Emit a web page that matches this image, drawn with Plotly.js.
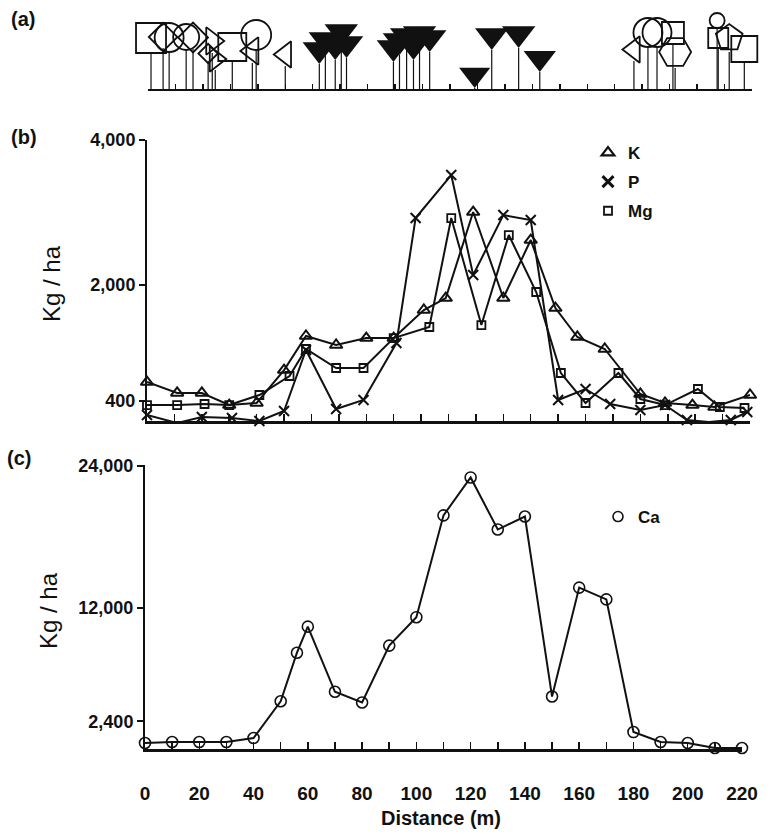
<!DOCTYPE html>
<html>
<head>
<meta charset="utf-8">
<script src="https://cdn.plot.ly/plotly-3.0.1.min.js"></script>
<style>
html,body{margin:0;padding:0;background:#fff;}
#chart{width:774px;height:834px;}
</style>
</head>
<body>
<div id="chart"></div>
<script>
// ---------- Panel (a): vegetation profile along the transect ----------
// position along transect (m), trunk height (relative units), crown width (relative units)
const squareDist  = [1.1, 30.7, 191.2, 207.7, 217.2];
const squareTrunk = [36, 28, 45, 41, 27];
const squareCrown = [30, 28, 22, 20, 26];

const circleDist  = [7.7, 13.9, 39.4, 182.1, 185.4, 207.3];
const circleTrunk = [37, 39, 39, 42, 42, 61];
const circleCrown = [29, 26, 30, 29, 29, 15];

const diamondDist  = [5.5, 16.4, 21.9];
const diamondTrunk = [41, 40, 28];
const diamondCrown = [22, 23, 15];

const triRightDist  = [23.4, 24.5];
const triRightTrunk = [36, 19];
const triRightCrown = [24, 22];

const triLeftDist  = [38, 50, 177];
const triLeftTrunk = [26, 23, 28];
const triLeftCrown = [24, 23, 23];

const coniferDist  = [62.4, 64.6, 68.2, 70.4, 72.3, 89.4, 91.6, 94.2, 96.7, 98.9, 102.6, 119, 125.2, 135, 142.7];
const coniferTrunk = [25, 35, 29, 43, 31, 27, 34, 39, 29, 41, 37, 1, 39, 41, 17];
const coniferCrown = [29, 29, 29, 29, 29, 29, 29, 29, 29, 29, 29, 27, 29, 29, 28];

const hexDist  = [192];
const hexTrunk = [21];
const hexCrown = [32];

const pentDist  = [211.7];
const pentTrunk = [37];
const pentCrown = [28];

// ---------- Panel (b): K, P, Mg (Kg / ha) ----------
const kDist  = [0, 11, 20, 30, 40, 50, 58, 69, 80, 90, 101, 109, 119, 130, 140, 149, 157, 167, 180, 189, 199, 207, 220];
const kVal   = [659, 508, 508, 342, 370, 824, 1293, 1169, 1265, 1265, 1651, 1816, 3001, 1816, 2615, 1678, 1279, 1114, 494, 370, 342, 315, 480];
const pDist  = [0, 11, 20, 31, 41, 50, 58, 69, 79, 91, 98, 111, 119, 130, 140, 150, 160, 169, 180, 189, 197, 205, 213, 219];
const pVal   = [205, 94, 177, 163, 122, 260, 1100, 287, 411, 1196, 2918, 3510, 2133, 2959, 2891, 411, 563, 356, 273, 342, 136, 108, 136, 246];
const mgDist = [0, 11, 21, 30, 41, 52, 58, 69, 79, 90, 103, 111, 122, 132, 142, 151, 160, 172, 180, 189, 201, 209, 218];
const mgVal  = [342, 342, 356, 342, 480, 742, 1114, 852, 852, 1265, 1417, 2918, 1444, 2684, 1899, 783, 370, 783, 425, 342, 563, 315, 301];

// ---------- Panel (c): Ca (Kg / ha) ----------
const caDist = [0, 10, 20, 30, 40, 50, 56, 60, 70, 80, 90, 100, 110, 120, 130, 140, 150, 160, 170, 180, 190, 200, 210, 220];
const caVal  = [580, 660, 660, 660, 1000, 4100, 8200, 10400, 4900, 4000, 8800, 11200, 19800, 23000, 18600, 19700, 4500, 13700, 12700, 1500, 660, 580, 150, 150];

// tick labels
const bTickVals = [400, 2000, 4000];
const cTickVals = [2400, 12000, 24000];
const distTickVals = [0,10,20,30,40,50,60,70,80,90,100,110,120,130,140,150,160,170,180,190,200,210,220];
const distTickText = ['0','','20','','40','','60','','80','','100','','120','','140','','160','','180','','200','','220'];

// ---------- build ----------
const INK = '#111';
const FONT = 'Liberation Sans, Arial, Helvetica, sans-serif';
const W = 774, H = 834;
const px = v => v / W;
const py = v => 1 - v / H;

const species = [
  {d: squareDist,   t: squareTrunk,   c: squareCrown,   sym: 'square-open',         fill: false},
  {d: circleDist,   t: circleTrunk,   c: circleCrown,   sym: 'circle-open',         fill: false},
  {d: diamondDist,  t: diamondTrunk,  c: diamondCrown,  sym: 'diamond-open',        fill: false},
  {d: triRightDist, t: triRightTrunk, c: triRightCrown, sym: 'triangle-right-open', fill: false},
  {d: triLeftDist,  t: triLeftTrunk,  c: triLeftCrown,  sym: 'triangle-left-open',  fill: false},
  {d: hexDist,      t: hexTrunk,      c: hexCrown,      sym: 'hexagon2-open',       fill: false},
  {d: pentDist,     t: pentTrunk,     c: pentCrown,     sym: 'pentagon-open',       fill: false},
  {d: coniferDist,  t: coniferTrunk,  c: coniferCrown,  sym: 'triangle-down',       fill: true}
];

const traces = [];
// stems
const sx = [], sy = [];
species.forEach(s => s.d.forEach((d, i) => { sx.push(d, d, null); sy.push(0, s.t[i], null); }));
traces.push({x: sx, y: sy, xaxis: 'x', yaxis: 'y', mode: 'lines', line: {color: INK, width: 1.2},
  showlegend: false, hoverinfo: 'skip', cliponaxis: false});
species.forEach(s => {
  traces.push({
    x: s.d, y: s.t.map((t, i) => t + s.c[i] / 2), xaxis: 'x', yaxis: 'y', mode: 'markers',
    marker: {symbol: s.sym, size: s.c, opacity: 1, color: INK, line: {color: INK, width: s.fill ? 0 : 1.8}},
    showlegend: false, cliponaxis: false
  });
});

// panel (b)
const lineB = {color: INK, width: 2};
traces.push({x: kDist, y: kVal, xaxis: 'x2', yaxis: 'y2', mode: 'lines+markers', line: lineB,
  marker: {symbol: 'triangle-up-open', size: 11, opacity: 1, color: INK, line: {width: 2, color: INK}}, showlegend: false, cliponaxis: false});
traces.push({x: pDist, y: pVal, xaxis: 'x2', yaxis: 'y2', mode: 'lines+markers', line: lineB,
  marker: {symbol: 'x-thin-open', size: 10, opacity: 1, color: INK, line: {width: 2, color: INK}}, showlegend: false, cliponaxis: false});
traces.push({x: mgDist, y: mgVal, xaxis: 'x2', yaxis: 'y2', mode: 'lines+markers', line: lineB,
  marker: {symbol: 'square-open', size: 8, opacity: 1, color: INK, line: {width: 1.8, color: INK}}, showlegend: false, cliponaxis: false});
// legend entries (b)
traces.push({x: [null], y: [null], xaxis: 'x2', yaxis: 'y2', mode: 'markers', name: 'K', legend: 'legend', legendgroup: 'k',
  marker: {symbol: 'triangle-up-open', size: 11, color: INK, line: {width: 2.2, color: INK}}});
traces.push({x: [null], y: [null], xaxis: 'x2', yaxis: 'y2', mode: 'markers', name: 'P', legend: 'legend', legendgroup: 'p',
  marker: {symbol: 'x-thin-open', size: 11, color: INK, line: {width: 3, color: INK}}});
traces.push({x: [null], y: [null], xaxis: 'x2', yaxis: 'y2', mode: 'markers', name: 'Mg', legend: 'legend', legendgroup: 'mg',
  marker: {symbol: 'square-open', size: 8, color: INK, line: {width: 1.8, color: INK}}});

// panel (c)
traces.push({x: caDist, y: caVal, xaxis: 'x3', yaxis: 'y3', mode: 'lines+markers', line: {color: INK, width: 2},
  marker: {symbol: 'circle-open', size: 11, opacity: 1, color: INK, line: {width: 1.6, color: INK}}, showlegend: false, cliponaxis: false});
traces.push({x: [null], y: [null], xaxis: 'x3', yaxis: 'y3', mode: 'markers', name: 'Ca', legend: 'legend2',
  marker: {symbol: 'circle-open', size: 10, color: INK, line: {width: 1.6, color: INK}}});

const tickFont = {family: FONT, size: 18, color: INK, weight: 'bold'};
const baseX = {range: [0, 220], showline: true, linecolor: INK, showgrid: false, zeroline: false,
  ticks: 'inside', tickvals: distTickVals, tickcolor: INK, tickwidth: 1.5, fixedrange: true};

const layout = {
  width: W, height: H,
  margin: {l: 0, r: 0, t: 0, b: 0},
  paper_bgcolor: '#fff', plot_bgcolor: 'rgba(0,0,0,0)',
  font: {family: FONT, color: INK},
  showlegend: true,
  xaxis: Object.assign({}, baseX, {domain: [px(148), px(752)], anchor: 'y', linewidth: 2, ticklen: 5,
    showticklabels: false}),
  yaxis: {domain: [py(89), py(9)], range: [0, 80], visible: false, anchor: 'x', fixedrange: true},
  xaxis2: Object.assign({}, baseX, {domain: [px(147), px(750)], anchor: 'y2', linewidth: 2.5, ticklen: 7,
    showticklabels: false}),
  yaxis2: {domain: [py(421), py(139.5)], range: [122, 4000], anchor: 'x2', showline: true, linecolor: INK,
    linewidth: 2, showgrid: false, zeroline: false, ticks: 'outside', ticklen: 6, tickwidth: 2, tickcolor: INK,
    tickvals: bTickVals, tickformat: ',d', tickfont: tickFont, fixedrange: true},
  xaxis3: Object.assign({}, baseX, {domain: [px(145), px(742)], anchor: 'y3', linewidth: 2.5, ticklen: 7,
    ticktext: distTickText, tickfont: {family: FONT, size: 19, color: INK, weight: 'bold'},
    ticklabelstandoff: 26}),
  yaxis3: {domain: [py(749), py(465)], range: [70, 24050], anchor: 'x3', showline: true, linecolor: INK,
    linewidth: 2, showgrid: false, zeroline: false, ticks: 'outside', ticklen: 6, tickwidth: 2, tickcolor: INK,
    tickvals: cTickVals, tickformat: ',d', tickfont: tickFont, fixedrange: true},
  legend: {x: px(588), y: py(135), xanchor: 'left', yanchor: 'top', bgcolor: 'rgba(0,0,0,0)',
    font: {family: FONT, size: 17, color: INK, weight: 'bold'}, traceorder: 'grouped', tracegroupgap: 4, itemwidth: 30},
  legend2: {x: px(598), y: py(499), xanchor: 'left', yanchor: 'top', bgcolor: 'rgba(0,0,0,0)',
    font: {family: FONT, size: 17, color: INK, weight: 'bold'}, itemwidth: 30},
  annotations: [
    {text: '(a)', x: px(9), y: py(6), xref: 'paper', yref: 'paper', xanchor: 'left', yanchor: 'top', showarrow: false,
      font: {family: FONT, size: 20, color: INK, weight: 'bold'}},
    {text: '(b)', x: px(9), y: py(124), xref: 'paper', yref: 'paper', xanchor: 'left', yanchor: 'top', showarrow: false,
      font: {family: FONT, size: 20, color: INK, weight: 'bold'}},
    {text: '(c)', x: px(5), y: py(445), xref: 'paper', yref: 'paper', xanchor: 'left', yanchor: 'top', showarrow: false,
      font: {family: FONT, size: 20, color: INK, weight: 'bold'}},
    {text: 'Kg / ha', x: px(51), y: py(284), xref: 'paper', yref: 'paper', xanchor: 'center', yanchor: 'middle',
      textangle: -90, showarrow: false, font: {family: FONT, size: 24, color: INK}},
    {text: 'Kg / ha', x: px(48), y: py(611), xref: 'paper', yref: 'paper', xanchor: 'center', yanchor: 'middle',
      textangle: -90, showarrow: false, font: {family: FONT, size: 24, color: INK}},
    {text: 'Distance (m)', x: px(441), y: py(818), xref: 'paper', yref: 'paper', xanchor: 'center', yanchor: 'middle',
      showarrow: false, font: {family: FONT, size: 20, color: INK, weight: 'bold'}}
  ]
};

Plotly.newPlot('chart', traces, layout, {displayModeBar: false, staticPlot: true});
</script>
</body>
</html>
